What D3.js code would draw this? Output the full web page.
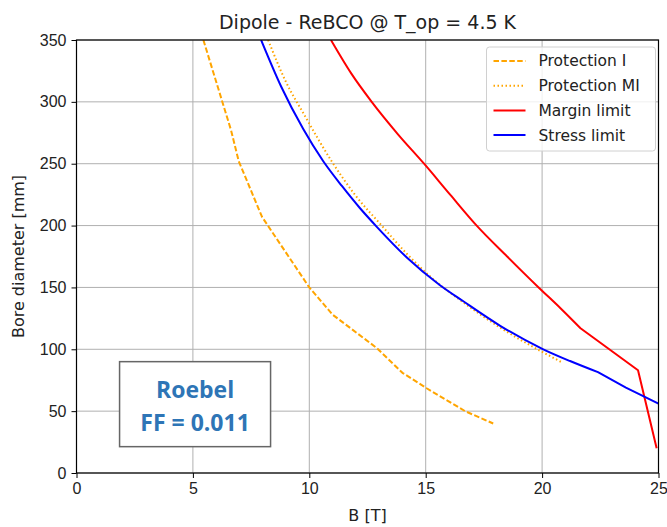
<!DOCTYPE html>
<html>
<head>
<meta charset="utf-8">
<script src="https://cdn.jsdelivr.net/npm/d3@7"></script>
<style>
  body { margin: 0; background: #fff; }
  svg { font-family: "DejaVu Sans", sans-serif; }
</style>
</head>
<body>
<div id="chart"></div>
<script>
// data: [B in T, bore diameter in mm]
const protectionI = [
  [5.45, 350], [6.64, 277], [6.97, 252], [7.97, 207], [10.0, 150],
  [11.0, 128], [12.9, 101], [14.0, 81], [15.04, 68.5], [16.69, 50], [17.9, 40]
];
const protectionMI = [
  [8.23, 350], [9.0, 316], [9.8, 289], [10.96, 252], [12.0, 224], [13.11, 200],
  [14.2, 177], [15.3, 157], [16.5, 139.5], [18.2, 117.5], [19.8, 100], [20.9, 89]
];
const marginLimit = [
  [10.93, 350], [11.8, 323], [12.68, 300], [13.8, 274], [14.93, 250], [16.05, 225],
  [17.19, 200], [18.5, 175], [19.85, 150], [20.8, 133], [21.65, 117], [24.12, 83], [24.92, 20]
];
const stressLimit = [
  [7.93, 350], [8.8, 312], [9.74, 278], [10.6, 252], [11.4, 232], [12.18, 214],
  [12.9, 199], [14.2, 174], [15.6, 152], [16.6, 139], [18.2, 119], [20.05, 100],
  [21.2, 90.5], [22.4, 81.5], [23.6, 69], [25, 56]
];

const xTicks = [0, 5, 10, 15, 20, 25];
const yTicks = [0, 50, 100, 150, 200, 250, 300, 350];

// smoothTo: index up to which the curve is drawn smooth, straight segments after that
const series = [
  { name: "Protection I", data: protectionI, color: "orange", dash: "5.5,2.4", smoothTo: 0 },
  { name: "Protection MI", data: protectionMI, color: "orange", dash: "1.5,2.5", smoothTo: 11 },
  { name: "Margin limit", data: marginLimit, color: "red", dash: null, smoothTo: 10 },
  { name: "Stress limit", data: stressLimit, color: "blue", dash: null, smoothTo: 13 }
];

const width = 667, height = 527;
const margin = { top: 40, right: 8.5, bottom: 54, left: 76.5 };
const innerW = width - margin.left - margin.right;
const innerH = height - margin.top - margin.bottom;

const svg = d3.select("#chart").append("svg")
  .attr("width", width)
  .attr("height", height);

const x = d3.scaleLinear().domain([0, 25]).range([0, innerW]);
const y = d3.scaleLinear().domain([0, 350]).range([innerH, 0]);

const g = svg.append("g").attr("transform", `translate(${margin.left},${margin.top})`);

// grid
g.append("g").selectAll("line").data(xTicks).join("line")
  .attr("x1", d => x(d)).attr("x2", d => x(d))
  .attr("y1", 0).attr("y2", innerH)
  .attr("stroke", "#b0b0b0").attr("stroke-width", 1);
g.append("g").selectAll("line").data(yTicks).join("line")
  .attr("y1", d => y(d)).attr("y2", d => y(d))
  .attr("x1", 0).attr("x2", innerW)
  .attr("stroke", "#b0b0b0").attr("stroke-width", 1);

// clip so lines stay inside the axes
svg.append("defs").append("clipPath").attr("id", "clip")
  .append("rect").attr("width", innerW).attr("height", innerH);

const smoothLine = d3.line().x(p => x(p[0])).y(p => y(p[1])).curve(d3.curveMonotoneX);
function pathFor(s) {
  const head = s.data.slice(0, s.smoothTo + 1);
  const tail = s.data.slice(s.smoothTo + 1);
  return smoothLine(head) + tail.map(p => `L${x(p[0])},${y(p[1])}`).join("");
}

g.append("g").attr("clip-path", "url(#clip)")
  .selectAll("path").data(series).join("path")
  .attr("d", pathFor)
  .attr("fill", "none")
  .attr("stroke", d => d.color)
  .attr("stroke-width", 2)
  .attr("stroke-linejoin", "round")
  .attr("stroke-dasharray", d => d.dash);

// axes
const xAxis = g.append("g").attr("transform", `translate(0,${innerH})`)
  .call(d3.axisBottom(x).tickValues(xTicks).tickSize(5).tickPadding(5));
const yAxis = g.append("g")
  .call(d3.axisLeft(y).tickValues(yTicks).tickSize(5).tickPadding(5));
[xAxis, yAxis].forEach(a => {
  a.select(".domain").remove();
  a.selectAll("text").style("font-size", "16px").attr("fill", "#222");
  a.selectAll("line").attr("stroke", "#000");
});

// frame
g.append("rect")
  .attr("width", innerW).attr("height", innerH)
  .attr("fill", "none").attr("stroke", "#000").attr("stroke-width", 1.2);

// title and labels
svg.append("text")
  .attr("x", margin.left + innerW / 2).attr("y", 29)
  .attr("text-anchor", "middle")
  .attr("fill", "#222")
  .style("font-size", "19px")
  .text("Dipole - ReBCO @ T_op = 4.5 K");

svg.append("text")
  .attr("x", margin.left + innerW / 2).attr("y", 521)
  .attr("text-anchor", "middle")
  .attr("fill", "#222")
  .style("font-size", "16px")
  .text("B [T]");

svg.append("text")
  .attr("transform", `translate(24,${margin.top + innerH / 2}) rotate(-90)`)
  .attr("text-anchor", "middle")
  .attr("fill", "#222")
  .style("font-size", "16px")
  .text("Bore diameter [mm]");

// legend
const legend = g.append("g").attr("transform", `translate(${innerW - 172},7)`);
legend.append("rect")
  .attr("width", 169).attr("height", 104)
  .attr("rx", 3)
  .attr("fill", "#fff").attr("fill-opacity", 0.8)
  .attr("stroke", "#d0d0d0");
const items = legend.selectAll("g").data(series).join("g")
  .attr("transform", (d, i) => `translate(7,${14 + i * 24.7})`);
items.append("line")
  .attr("x1", 0).attr("x2", 32)
  .attr("stroke", d => d.color).attr("stroke-width", 2)
  .attr("stroke-dasharray", d => d.dash);
items.append("text")
  .attr("x", 45).attr("dy", "0.35em")
  .attr("fill", "#222")
  .style("font-size", "15.5px")
  .text(d => d.name);

// annotation box
const note = g.append("g").attr("transform", `translate(${x(1.85)},${y(90)})`);
note.append("rect")
  .attr("width", 151).attr("height", 85)
  .attr("fill", "#fff").attr("stroke", "#666").attr("stroke-width", 1.5);
note.append("text")
  .attr("x", 75.5).attr("y", 36)
  .attr("text-anchor", "middle")
  .style("font-family", "'Open Sans', sans-serif")
  .style("font-weight", "bold").style("font-size", "23px")
  .attr("fill", "#2E75B6")
  .text("Roebel");
note.append("text")
  .attr("x", 75.5).attr("y", 69)
  .attr("text-anchor", "middle")
  .style("font-family", "'Open Sans', sans-serif")
  .style("font-weight", "bold").style("font-size", "23px")
  .attr("fill", "#2E75B6")
  .text("FF = 0.011");
</script>
</body>
</html>
